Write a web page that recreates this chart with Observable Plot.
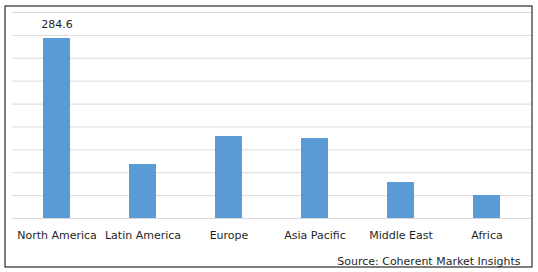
<!DOCTYPE html>
<html>
<head>
<meta charset="utf-8">
<script src="https://cdn.jsdelivr.net/npm/d3@7"></script>
<script src="https://cdn.jsdelivr.net/npm/@observablehq/plot@0.6"></script>
<style>
  html, body { margin: 0; padding: 0; background: #fff; }
  #chart { width: 538px; height: 272px; }
</style>
</head>
<body>
<div id="chart"></div>
<script>
const regions = ["North America", "Latin America", "Europe", "Asia Pacific", "Middle East", "Africa"];
const values = [284.6, 85.4, 129.7, 126.5, 56.9, 36.4];
const labeledRegions = ["North America"];
const sourceText = "Source: Coherent Market Insights";
const yMax = 325.7;
const gridCount = 9;

const data = regions.map((r, i) => ({region: r, value: values[i]}));
const gridTicks = d3.range(gridCount + 1).map(i => i * yMax / gridCount);

const chart = Plot.plot({
  width: 538,
  height: 272,
  marginLeft: 12,
  marginRight: 7,
  marginTop: 12,
  marginBottom: 54,
  style: {fontFamily: "DejaVu Sans", fontSize: "11px", color: "#1f1f1f", background: "#fff"},
  x: {domain: regions, paddingInner: 0.6875, paddingOuter: 0.34375, label: null},
  y: {domain: [0, yMax], axis: null},
  marks: [
    Plot.frame({stroke: "#000", strokeWidth: 1, insetLeft: -7.5, insetTop: -6.5, insetRight: -0.5, insetBottom: -48.5}),
    Plot.ruleY(gridTicks, {stroke: "#d9d9d9", strokeWidth: 1}),
    Plot.barY(data, {x: "region", y: "value", fill: "#5b9bd5"}),
    Plot.text(data.filter(d => labeledRegions.includes(d.region)), {
      x: "region", y: "value", text: d => d.value.toFixed(1), dy: -14, lineAnchor: "middle", fill: "#1f1f1f", fontSize: 11
    }),
    Plot.axisX({tickSize: 0, tickPadding: 12.5, fontSize: 11, fill: "#1f1f1f"}),
    Plot.text([sourceText], {frameAnchor: "bottom-right", text: d => d, dx: -11, dy: 43, lineAnchor: "middle", textAnchor: "end", fill: "#1f1f1f", fontSize: 11})
  ]
});
document.getElementById("chart").append(chart);
</script>
</body>
</html>
